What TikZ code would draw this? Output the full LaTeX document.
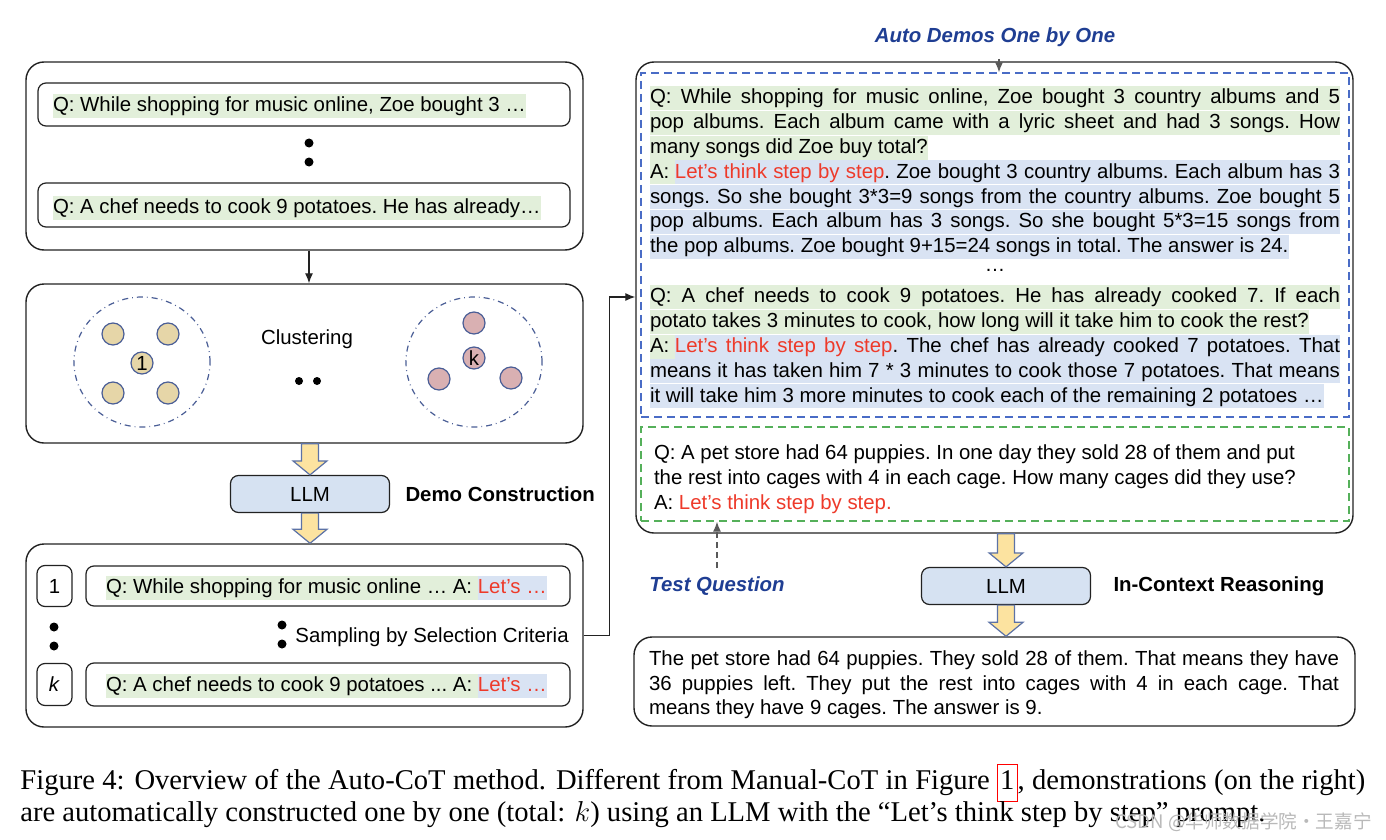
\documentclass[tikz,border=0pt]{standalone}
\usepackage{fontspec}
\setmainfont{Liberation Sans}
\newfontfamily\capfont{Liberation Serif}
\newfontfamily\cjkfont{Noto Sans CJK SC}
\usetikzlibrary{positioning,fit,arrows.meta,shapes.geometric,calc}

\definecolor{qgreen}{HTML}{E2EFDA}
\definecolor{ablue}{HTML}{D9E3F3}
\definecolor{letred}{HTML}{EE3A2A}
\definecolor{llmblue}{HTML}{D6E2F2}
\definecolor{arrowgold}{HTML}{FCE3A0}
\definecolor{arrowedge}{HTML}{5C72A6}
\definecolor{ringblue}{HTML}{4A5E96}
\definecolor{clustertan}{HTML}{E6D6A8}
\definecolor{clusterpink}{HTML}{D9B0B2}
\definecolor{demoblue}{HTML}{4A6CC6}
\definecolor{testgreen}{HTML}{55B05A}
\definecolor{labelblue}{HTML}{1F3E93}
\definecolor{boxline}{HTML}{222222}

\newcommand\qbit[1]{{\fboxsep=0pt\colorbox{qgreen}{\rule[-3.1pt]{0pt}{12pt}#1}}}
\newcommand\abit[1]{{\fboxsep=0pt\colorbox{ablue}{\rule[-3.1pt]{0pt}{12pt}#1}}}
\newcommand\lets[1]{\textcolor{letred}{#1}}
\newcommand\jline[1]{\hbox to 345pt{#1}}
\newcommand\fatarrow[2]{%
  \draw[fatarrow] let \p1=(#1), \p2=(#2) in
    (\x1-4.25pt,\y1) -- (\x1-4.25pt,\y2+7pt) -- (\x1-8.5pt,\y2+7pt) -- (\x1,\y2)
    -- (\x1+8.5pt,\y2+7pt) -- (\x1+4.25pt,\y2+7pt) -- (\x1+4.25pt,\y1) -- cycle;}

\begin{document}
\frenchspacing
\begin{tikzpicture}[x=0.5pt, y=-0.5pt,
    font=\fontsize{10.2pt}{12.4pt}\selectfont,
    bigbox/.style={draw=boxline, line width=0.7pt, rounded corners=9pt, inner sep=0pt},
    qbox/.style={draw=boxline, line width=0.6pt, rounded corners=4pt, inner sep=0pt},
    hlline/.style={inner sep=0pt, outer sep=0pt, text height=8.9pt, text depth=3.1pt, anchor=north west},
    qline/.style={hlline, fill=qgreen},
    aline/.style={hlline, fill=ablue},
    blob/.style={circle, draw=ringblue, line width=0.6pt, minimum size=11pt, inner sep=0pt},
    ring/.style={ellipse, draw=ringblue, dash dot, line width=0.6pt, minimum width=68pt, minimum height=65pt},
    llm/.style={draw=boxline, line width=0.6pt, fill=llmblue, rounded corners=4pt, minimum width=79.5pt, minimum height=18.5pt, inner sep=0pt},
    fatarrow/.style={draw=arrowedge, fill=arrowgold, line width=0.6pt},
    thinarr/.style={draw=boxline, line width=0.6pt, -{Latex[length=5pt,width=4pt]}},
    hintarr/.style={draw=gray!70!black, line width=0.6pt, dash pattern=on 3pt off 2pt, -{Latex[length=5pt,width=4pt]}},
    demoframe/.style={draw=demoblue, line width=0.7pt, dash pattern=on 4pt off 2.5pt, inner sep=0pt},
    testframe/.style={draw=testgreen, line width=0.7pt, dash pattern=on 4pt off 2.5pt, inner sep=0pt},
    tag/.style={inner sep=0pt, font=\fontsize{10.2pt}{12.4pt}\selectfont\bfseries\itshape, text=labelblue},
    stage/.style={inner sep=0pt, font=\fontsize{10.2pt}{12.4pt}\selectfont\bfseries},
    pdot/.style={circle, fill=black, minimum size=4.5pt, inner sep=0pt},
    capline/.style={inner sep=0pt, anchor=base west, font=\capfont\fontsize{14.3pt}{16pt}\selectfont\nonfrenchspacing}]

    \path[fill=white] (0,0) rectangle (1386,840);

    % question pool
    \node[bigbox, fit={(26,62) (583,250)}] (pool) {};
    \node[qbox, fit={(38,83) (570,126)}] (poolq1) {};
    \node[qbox, fit={(38,183) (570,227)}] (poolq2) {};
    \node[qline, anchor=west] (pooltxt1) at (53,106) {Q: While shopping for music online, Zoe bought 3 …};
    \node[qline, anchor=west] (pooltxt2) at (53,208) {Q: A chef needs to cook 9 potatoes. He has already…};
    \foreach \y in {143,162}
        \node[pdot] at (309,\y) {};

    % clustering
    \node[bigbox, fit={(26,284) (583,443)}] (clust) {};
    \draw[thinarr] ([xshift=2.25pt]pool.south) -- ([xshift=2.25pt]clust.north);
    \node[ring] (ring1) at (142,362) {};
    \node[ring] (ringk) at (474,362) {};
    \foreach \x/\y in {113/334,168/334,113/393,168/393}
        \node[blob, fill=clustertan] at (\x,\y) {};
    \node[blob, fill=clustertan] (seed1) at (142,363) {1};
    \foreach \x/\y in {474/323,439/379,511/378}
        \node[blob, fill=clusterpink] at (\x,\y) {};
    \node[blob, fill=clusterpink] (seedk) at (474,358) {k};
    \node (clusterlbl) at (307,339) {Clustering};
    \foreach \x in {299,317}
        \node[pdot, minimum size=4pt] at (\x,381) {};

    % demo construction
    \node[llm] (llm1) at (310,494) {LLM};
    \node[stage, right=7.5pt of llm1] (democons) {Demo Construction};
    \node[bigbox, fit={(26,544) (583,727)}] (demos) {};
    \fatarrow{llm1.north |- clust.south}{llm1.north}
    \fatarrow{llm1.south}{llm1.south |- demos.north}

    \node[qbox, minimum width=17.5pt, minimum height=20.5pt] (idx1) at (54.5,586) {1};
    \node[qbox, fit={(86,566) (570,606)}] (demo1) {};
    \node[hlline, anchor=west] (demotxt1) at (106,588) {\qbit{Q: While shopping for music online … A: }\abit{\lets{Let’s …}}};
    \node[qbox, minimum width=17.5pt, minimum height=21pt] (idxk) at (54.5,684.5) {\textit{k}};
    \node[qbox, fit={(86,663) (570,706)}] (demok) {};
    \node[hlline, anchor=west] (demotxtk) at (106,686) {\qbit{Q: A chef needs to cook 9 potatoes ... A: }\abit{\lets{Let’s …}}};
    \foreach \y in {627,646}
        \node[pdot] at (54,\y) {};
    \foreach \y in {625,644}
        \node[pdot] at (282,\y) {};
    \node[anchor=west, inner sep=0pt] (sampling) at (295,637) {Sampling by Selection Criteria};

    % prompt with auto demos and test question
    \node[bigbox, fit={(636,62) (1353,533)}] (prompt) {};
    \node[demoframe, fit={(641,73) (1349,417)}] (autodemos) {};
    \node[testframe, fit={(641,427) (1349,521)}] (testq) {};

    \node[qline, anchor=west] (zoeq1) at (650,98) {\jline{Q: While shopping for music online, Zoe bought 3 country albums and 5}};
    \node[qline, below right=0.4pt and 0pt of zoeq1.south west] (zoeq2) {\jline{pop albums. Each album came with a lyric sheet and had 3 songs. How}};
    \node[qline, below right=0.4pt and 0pt of zoeq2.south west] (zoeq3) {many songs did Zoe buy total?};
    \node[aline, below right=0.4pt and 0pt of zoeq3.south west] (zoea1) {\jline{\qbit{A: }\lets{Let’s think step by step}. Zoe bought 3 country albums. Each album has 3}};
    \node[aline, below right=0.4pt and 0pt of zoea1.south west] (zoea2) {\jline{songs. So she bought 3*3=9 songs from the country albums. Zoe bought 5}};
    \node[aline, below right=0.4pt and 0pt of zoea2.south west] (zoea3) {\jline{pop albums. Each album has 3 songs. So she bought 5*3=15 songs from}};
    \node[aline, below right=0.4pt and 0pt of zoea3.south west] (zoea4) {the pop albums. Zoe bought 9+15=24 songs in total. The answer is 24.};
    \node[inner sep=0pt] (skip) at (995,270) {…};

    \node[qline, anchor=west] (chefq1) at (650,297) {\jline{Q: A chef needs to cook 9 potatoes. He has already cooked 7. If each}};
    \node[qline, below right=0.4pt and 0pt of chefq1.south west] (chefq2) {potato takes 3 minutes to cook, how long will it take him to cook the rest?};
    \node[aline, below right=0.4pt and 0pt of chefq2.south west] (chefa1) {\jline{\qbit{A: }\lets{Let’s think step by step}. The chef has already cooked 7 potatoes. That}};
    \node[aline, below right=0.4pt and 0pt of chefa1.south west] (chefa2) {\jline{means it has taken him 7 * 3 minutes to cook those 7 potatoes. That means}};
    \node[aline, below right=0.4pt and 0pt of chefa2.south west] (chefa3) {it will take him 3 more minutes to cook each of the remaining 2 potatoes …};

    \node[hlline, anchor=west] (testq1) at (654,454) {Q: A pet store had 64 puppies. In one day they sold 28 of them and put};
    \node[hlline, below right=0.3pt and 0pt of testq1.south west] (testq2) {the rest into cages with 4 in each cage. How many cages did they use?};
    \node[hlline, below right=0.3pt and 0pt of testq2.south west] (testa) {A: \lets{Let’s think step by step.}};

    \draw[thinarr] (demos.east) -- ++(26,0) |- (prompt.west |- chefq1.west);

    \node[tag] (autolbl) at (995,37) {Auto Demos One by One};
    \draw[hintarr] ([xshift=2pt]autolbl.south) ++(0,-6pt) -- ([xshift=2pt]autolbl.south |- autodemos.north);
    \node[tag] (testlbl) at (717,586) {Test Question};
    \draw[hintarr] ([yshift=4pt]testlbl.north) -- (testlbl.north |- testq.south);

    % in-context reasoning
    \node[llm, minimum width=84.5pt] (llm2) at (1006,586) {LLM};
    \node[stage, right=11pt of llm2] (reasoning) {In-Context Reasoning};
    \node[bigbox, fit={(634,637) (1355,726)}] (answer) {};
    \fatarrow{llm2.north |- prompt.south}{llm2.north}
    \fatarrow{llm2.south}{llm2.south |- answer.north}

    \node[hlline, anchor=west] (ans1) at (649,660) {\jline{The pet store had 64 puppies. They sold 28 of them. That means they have}};
    \node[hlline, below right=0.1pt and 0pt of ans1.south west] (ans2) {\jline{36 puppies left. They put the rest into cages with 4 in each cage. That}};
    \node[hlline, below right=0.1pt and 0pt of ans2.south west] (ans3) {means they have 9 cages. The answer is 9.};

    % caption
    \node[capline] (cap1) at (20,789) {\hbox to 672.5pt{Figure 4: Overview of the Auto-CoT method. Different from Manual-CoT in Figure {\fboxsep=1pt\fboxrule=0.5pt\fcolorbox{red}{white}{\strut 1}}, demonstrations (on the right)}};
    \node[capline] (cap2) at (20,821) {are automatically constructed one by one (total: $k$) using an LLM with the “Let’s think step by step” prompt.};
    \node[anchor=base east, inner sep=0pt, text=gray!55, font=\cjkfont\fontsize{9.3pt}{11pt}\selectfont] (mark) at (1372,828) {CSDN @华师数据学院·王嘉宁};
\end{tikzpicture}
\end{document}
